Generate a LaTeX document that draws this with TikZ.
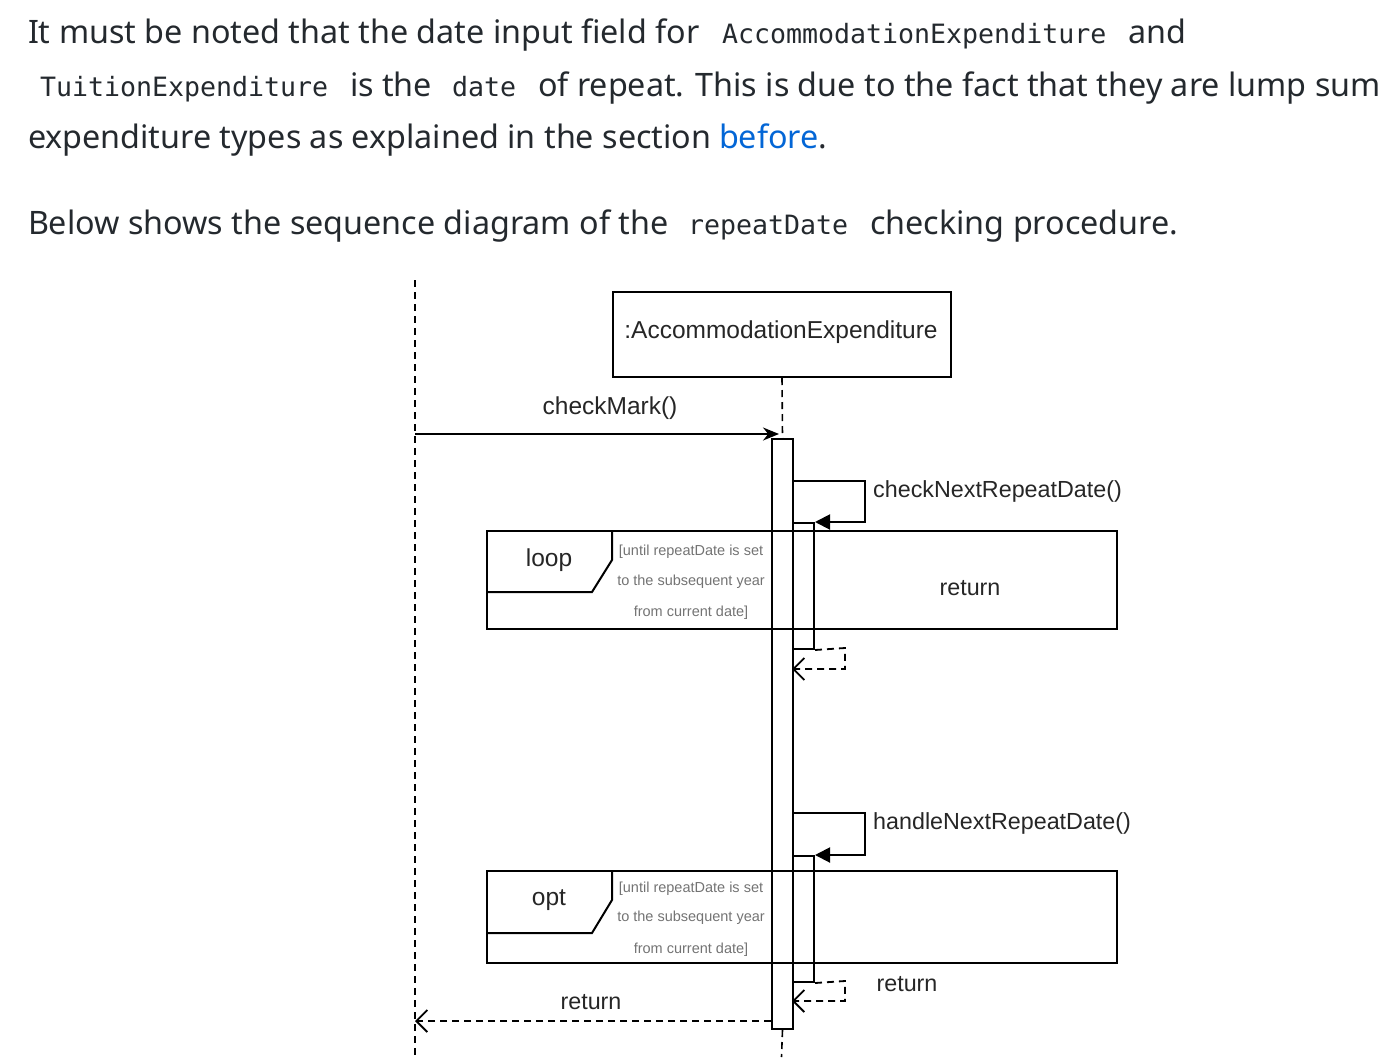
\documentclass[tikz,border=0pt]{standalone}
\usepackage{fontspec}
\setmainfont{Noto Sans}
\newfontfamily\codefont{DejaVu Sans Mono}
\newfontfamily\diafont{Liberation Sans}
\usetikzlibrary{arrows.meta}
\definecolor{txt}{HTML}{24292E}
\definecolor{linkc}{HTML}{0366D6}
\tikzset{
  prose/.style={anchor=base west, inner sep=0pt, outer sep=0pt, text=txt, font=\fontsize{32.3}{38}\selectfont},
  code/.style={anchor=base west, inner sep=0pt, outer sep=0pt, text=txt, font=\codefont\fontsize{26.6}{30}\selectfont},
  dlabel/.style={inner sep=0pt, text=black!85, font=\diafont\fontsize{24.5}{28}\selectfont},
  mlabel/.style={inner sep=0pt, text=black!85, font=\diafont\fontsize{23.3}{28}\selectfont},
  guard/.style={inner sep=0pt, text=black!55, font=\diafont\fontsize{14.5}{16}\selectfont},
  objbox/.style={draw, line width=2pt, inner sep=0pt, anchor=north west},
  barbox/.style={draw, line width=2pt, fill=white, inner sep=0pt, anchor=north west, minimum width=21pt},
  framebox/.style={draw, line width=2pt, inner sep=0pt, anchor=north west, minimum width=630pt},
  life/.style={line width=1.6pt, dash pattern=on 7pt off 5pt},
  msg/.style={line width=2pt},
  retmsg/.style={line width=1.8pt, dash pattern=on 7pt off 5pt, -{Straight Barb[length=11pt,width=22pt,line width=1.8pt]}},
  selfmsg/.style={line width=2pt, -{Triangle[length=15pt,width=15pt]}}
}
\begin{document}
\begin{tikzpicture}[x=1pt,y=-1pt]
\useasboundingbox (0,0) rectangle (1396,1057);
% ---------- prose ----------
\node[prose] (l1a) at (28,44) {It must be noted that the date input field for};
\node[code]  (l1b) at (722,44) {AccommodationExpenditure};
\node[prose] (l1c) at (1128,44) {and};
\node[code]  (l2a) at (40,96) {TuitionExpenditure};
\node[prose] (l2b) at (350,96) {is the};
\node[code]  (l2c) at (452,96) {date};
\node[prose] (l2d) at (538,96) {of repeat. This is due to the fact that they are lump sum};
\node[prose] (l3a) at (28,148) {expenditure types as explained in the section};
\node[prose, text=linkc] (l3b) at (719,148) {before};
\node[prose] (l3c) at (818,148) {.};
\node[prose] (l4a) at (28,234) {Below shows the sequence diagram of the};
\node[code]  (l4b) at (688,234) {repeatDate};
\node[prose] (l4c) at (870,234) {checking procedure.};
% ---------- diagram ----------
\coordinate (actTop) at (415,280);
\coordinate (actBot) at (415,1057);
\draw[life] (actTop) -- (actBot);
\node[objbox, minimum width=338pt, minimum height=85pt] (obj) at (612,291) {};
\node[dlabel] (objl) at (781,332) {:AccommodationExpenditure};
\node[barbox, minimum height=590pt] (bar) at (771,438) {};
\coordinate (lifeBot) at (781.5,1057);
\draw[life] (obj.south) -- (bar.north);
\draw[life] (bar.south) -- (lifeBot);
% checkMark
\coordinate (cmS) at (415,434);
\coordinate (cmE) at (779,434);
\draw[msg, -{Stealth[length=16pt,width=13pt]}] (cmS) -- (cmE);
\node[dlabel] (cml) at (610,408) {checkMark()};
% loop frame
\node[framebox, minimum height=98pt] (loopf) at (486,530) {};
\draw[line width=2pt] (486,592) -- (592,592) -- (612,560) -- (612,530);
\node[dlabel] (loopl) at (549,560) {loop};
\node[guard] (g1a) at (691,552) {[until repeatDate is set};
\node[guard] (g1b) at (691,582) {to the subsequent year};
\node[guard] (g1c) at (691,613) {from current date]};
\node[mlabel] (ret1) at (970,588) {return};
% nested 1
\node[barbox, fill=none, minimum height=126pt] (n1) at (792,522) {};
\draw[selfmsg] (792,481) -- (865,481) -- (865,522) -- (n1.north east);
\node[mlabel, anchor=west] (cnl) at (873,491) {checkNextRepeatDate()};
\draw[retmsg] (n1.south east) -- (845,648) -- (845,669) -- (792,669);
% opt frame
\node[framebox, minimum height=92pt] (optf) at (486,870) {};
\draw[line width=2pt] (486,933) -- (592,933) -- (612,900) -- (612,870);
\node[dlabel] (optl) at (549,900) {opt};
\node[guard] (g2a) at (691,889) {[until repeatDate is set};
\node[guard] (g2b) at (691,918) {to the subsequent year};
\node[guard] (g2c) at (691,950) {from current date]};
% nested 2
\node[barbox, fill=none, minimum height=126pt] (n2) at (792,855) {};
\draw[selfmsg] (792,813) -- (865,813) -- (865,855) -- (n2.north east);
\node[mlabel, anchor=west] (hnl) at (873,823) {handleNextRepeatDate()};
\draw[retmsg] (n2.south east) -- (845,981) -- (845,1001) -- (792,1001);
\node[mlabel] (ret2) at (907,984) {return};
% final return
\coordinate (frS) at (771,1021);
\coordinate (frE) at (415,1021);
\draw[retmsg] (frS) -- (frE);
\node[mlabel] (ret3) at (591,1002) {return};
\end{tikzpicture}
\end{document}
